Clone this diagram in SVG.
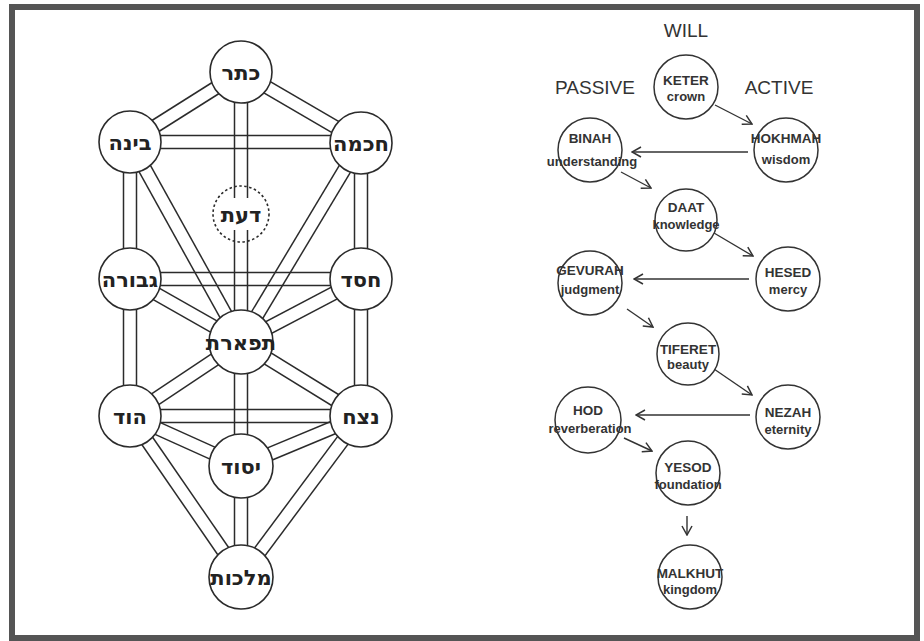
<svg xmlns="http://www.w3.org/2000/svg" width="924" height="641" viewBox="0 0 924 641">
  <style>
    .frame { fill: #ffffff; stroke: #555555; stroke-width: 6; }
    .path line { stroke: #2b2b2b; stroke-width: 1.5; }
    .sef { fill: #ffffff; stroke: #2b2b2b; stroke-width: 1.6; }
    .dashed { fill: none; stroke-dasharray: 2.5 2.5; }
    .heb { font-family: "DejaVu Sans", "Liberation Sans", sans-serif; font-weight: bold; font-size: 21px; fill: #222222; text-anchor: middle; }
    .node { fill: #ffffff; stroke: #333333; stroke-width: 1.5; }
    .name { font-family: "Liberation Sans", Arial, sans-serif; font-weight: bold; font-size: 13.5px; fill: #333333; text-anchor: middle; }
    .mean { font-family: "Liberation Sans", Arial, sans-serif; font-weight: bold; font-size: 13px; fill: #333333; text-anchor: middle; }
    .head { font-family: "Liberation Sans", Arial, sans-serif; font-size: 19px; fill: #333333; text-anchor: middle; }
    .flow line { stroke: #333333; stroke-width: 1.4; marker-end: url(#arr); }
  </style>
  <defs>
    <marker id="arr" viewBox="0 0 12 12" refX="11" refY="6" markerWidth="12" markerHeight="12" markerUnits="userSpaceOnUse" orient="auto">
      <path d="M2,1 L11,6 L2,11" fill="none" stroke="#333333" stroke-width="1.5"/>
    </marker>
  </defs>

  <rect class="frame" x="12" y="7" width="905" height="631"/>

  <!-- Tree of life: double-line paths -->
  <g id="tree-paths" class="path">
    <!-- Keter - Binah -->
    <line x1="237.5" y1="66.5" x2="126.5" y2="136.5"/><line x1="244.5" y1="77.5" x2="133.5" y2="147.5"/>
    <!-- Keter - Hokhmah -->
    <line x1="237.7" y1="77.6" x2="357.7" y2="147.6"/><line x1="244.3" y1="66.4" x2="364.3" y2="136.4"/>
    <!-- Keter - Daat - Tiferet (central column) -->
    <line x1="234.5" y1="72" x2="234.5" y2="198"/><line x1="247.5" y1="72" x2="247.5" y2="198"/>
    <line x1="234.5" y1="230" x2="234.5" y2="342"/><line x1="247.5" y1="230" x2="247.5" y2="342"/>
    <!-- Binah - Hokhmah -->
    <line x1="130" y1="135.5" x2="361" y2="135.5"/><line x1="130" y1="148.5" x2="361" y2="148.5"/>
    <!-- Binah - Gevurah -->
    <line x1="123.5" y1="142" x2="123.5" y2="279"/><line x1="136.5" y1="142" x2="136.5" y2="279"/>
    <!-- Hokhmah - Hesed -->
    <line x1="354.5" y1="142" x2="354.5" y2="279"/><line x1="367.5" y1="142" x2="367.5" y2="279"/>
    <!-- Binah - Tiferet -->
    <line x1="124.3" y1="145.2" x2="235.3" y2="345.2"/><line x1="135.7" y1="138.8" x2="246.7" y2="338.8"/>
    <!-- Hokhmah - Tiferet -->
    <line x1="355.4" y1="138.7" x2="235.4" y2="338.7"/><line x1="366.6" y1="145.3" x2="246.6" y2="345.3"/>
    <!-- Gevurah - Hesed -->
    <line x1="130" y1="272.5" x2="361" y2="272.5"/><line x1="130" y1="285.5" x2="361" y2="285.5"/>
    <!-- Gevurah - Tiferet -->
    <line x1="126.8" y1="284.7" x2="237.8" y2="347.7"/><line x1="133.2" y1="273.3" x2="244.2" y2="336.3"/>
    <!-- Hesed - Tiferet -->
    <line x1="358" y1="273.2" x2="238" y2="336.2"/><line x1="364" y1="284.8" x2="244" y2="347.8"/>
    <!-- Gevurah - Hod -->
    <line x1="123.5" y1="279" x2="123.5" y2="416"/><line x1="136.5" y1="279" x2="136.5" y2="416"/>
    <!-- Hesed - Nezah -->
    <line x1="354.5" y1="279" x2="354.5" y2="416"/><line x1="367.5" y1="279" x2="367.5" y2="416"/>
    <!-- Tiferet - Hod -->
    <line x1="237.4" y1="336.6" x2="126.4" y2="410.6"/><line x1="244.6" y1="347.4" x2="133.6" y2="421.4"/>
    <!-- Tiferet - Nezah -->
    <line x1="237.6" y1="347.5" x2="357.6" y2="421.5"/><line x1="244.4" y1="336.5" x2="364.4" y2="410.5"/>
    <!-- Tiferet - Yesod -->
    <line x1="234.5" y1="342" x2="234.5" y2="466"/><line x1="247.5" y1="342" x2="247.5" y2="466"/>
    <!-- Hod - Nezah -->
    <line x1="130" y1="409.5" x2="361" y2="409.5"/><line x1="130" y1="422.5" x2="361" y2="422.5"/>
    <!-- Hod - Yesod -->
    <line x1="127.3" y1="421.9" x2="238.3" y2="471.9"/><line x1="132.7" y1="410.1" x2="243.7" y2="460.1"/>
    <!-- Nezah - Yesod -->
    <line x1="358.5" y1="410" x2="238.5" y2="460"/><line x1="363.5" y1="422" x2="243.5" y2="472"/>
    <!-- Hod - Malkhut -->
    <line x1="124.7" y1="419.7" x2="235.7" y2="580.7"/><line x1="135.4" y1="412.3" x2="246.4" y2="573.3"/>
    <!-- Nezah - Malkhut -->
    <line x1="355.8" y1="412.1" x2="235.8" y2="573.1"/><line x1="366.2" y1="419.9" x2="246.2" y2="580.9"/>
    <!-- Yesod - Malkhut -->
    <line x1="234.5" y1="466" x2="234.5" y2="577"/><line x1="247.5" y1="466" x2="247.5" y2="577"/>
  </g>

  <!-- Tree of life: sefirot -->
  <g id="t-keter"><circle class="sef" cx="241" cy="72" r="31"/><text class="heb" x="241" y="80">כתר</text></g>
  <g id="t-binah"><circle class="sef" cx="130" cy="142" r="31"/><text class="heb" x="130" y="150">בינה</text></g>
  <g id="t-hokhmah"><circle class="sef" cx="361" cy="143" r="31"/><text class="heb" x="361" y="151">חכמה</text></g>
  <g id="t-daat"><circle class="sef dashed" cx="241" cy="214" r="28"/><text class="heb" x="241" y="222">דעת</text></g>
  <g id="t-gevurah"><circle class="sef" cx="130" cy="279" r="31"/><text class="heb" x="130" y="287">גבורה</text></g>
  <g id="t-hesed"><circle class="sef" cx="361" cy="279" r="31"/><text class="heb" x="361" y="287">חסד</text></g>
  <g id="t-tiferet"><circle class="sef" cx="241" cy="342" r="32"/><text class="heb" x="241" y="350">תפארת</text></g>
  <g id="t-hod"><circle class="sef" cx="130" cy="416" r="31"/><text class="heb" x="130" y="424">הוד</text></g>
  <g id="t-nezah"><circle class="sef" cx="361" cy="416" r="31"/><text class="heb" x="361" y="424">נצח</text></g>
  <g id="t-yesod"><circle class="sef" cx="241" cy="466" r="32"/><text class="heb" x="241" y="474">יסוד</text></g>
  <g id="t-malkhut"><circle class="sef" cx="241" cy="577" r="32"/><text class="heb" x="241" y="585">מלכות</text></g>

  <!-- Emanation sequence: headings -->
  <g id="headings">
    <text class="head" x="686" y="37">WILL</text>
    <text class="head" x="595" y="94">PASSIVE</text>
    <text class="head" x="779" y="94">ACTIVE</text>
  </g>

  <!-- Emanation sequence: arrows -->
  <g id="flow" class="flow">
    <line x1="715" y1="105" x2="752" y2="124"/>
    <line x1="748" y1="152" x2="632" y2="152"/>
    <line x1="621" y1="172" x2="651" y2="188"/>
    <line x1="714" y1="233" x2="753" y2="256"/>
    <line x1="749" y1="279" x2="634" y2="279"/>
    <line x1="627" y1="309" x2="653" y2="327"/>
    <line x1="714" y1="369" x2="752" y2="395"/>
    <line x1="750" y1="415" x2="636" y2="415"/>
    <line x1="624" y1="438" x2="652" y2="451"/>
    <line x1="687" y1="516" x2="687" y2="535"/>
  </g>

  <!-- Emanation sequence: nodes -->
  <g id="keter"><circle class="node" cx="686" cy="87" r="32"/><text class="name" x="686" y="85">KETER</text><text class="mean" x="686" y="101">crown</text></g>
  <g id="binah"><circle class="node" cx="590" cy="150" r="32"/><text class="name" x="590" y="143">BINAH</text><text class="mean" x="592" y="166">understanding</text></g>
  <g id="hokhmah"><circle class="node" cx="786" cy="150" r="32"/><text class="name" x="786" y="143">HOKHMAH</text><text class="mean" x="786" y="164">wisdom</text></g>
  <g id="daat"><circle class="node" cx="686" cy="220" r="31"/><text class="name" x="686" y="212">DAAT</text><text class="mean" x="686" y="229">knowledge</text></g>
  <g id="hesed"><circle class="node" cx="788" cy="279" r="32"/><text class="name" x="788" y="277">HESED</text><text class="mean" x="788" y="294">mercy</text></g>
  <g id="gevurah"><circle class="node" cx="590" cy="283" r="32"/><text class="name" x="590" y="275">GEVURAH</text><text class="mean" x="590" y="294">judgment</text></g>
  <g id="tiferet"><circle class="node" cx="688" cy="354" r="31"/><text class="name" x="688" y="354">TIFERET</text><text class="mean" x="688" y="369">beauty</text></g>
  <g id="nezah"><circle class="node" cx="788" cy="417" r="32"/><text class="name" x="788" y="417">NEZAH</text><text class="mean" x="788" y="434">eternity</text></g>
  <g id="hod"><circle class="node" cx="588" cy="420" r="33"/><text class="name" x="588" y="415">HOD</text><text class="mean" x="590" y="433">reverberation</text></g>
  <g id="yesod"><circle class="node" cx="688" cy="473" r="32"/><text class="name" x="688" y="472">YESOD</text><text class="mean" x="688" y="489">foundation</text></g>
  <g id="malkhut"><circle class="node" cx="690" cy="577" r="32"/><text class="name" x="690" y="578">MALKHUT</text><text class="mean" x="690" y="594">kingdom</text></g>
</svg>
